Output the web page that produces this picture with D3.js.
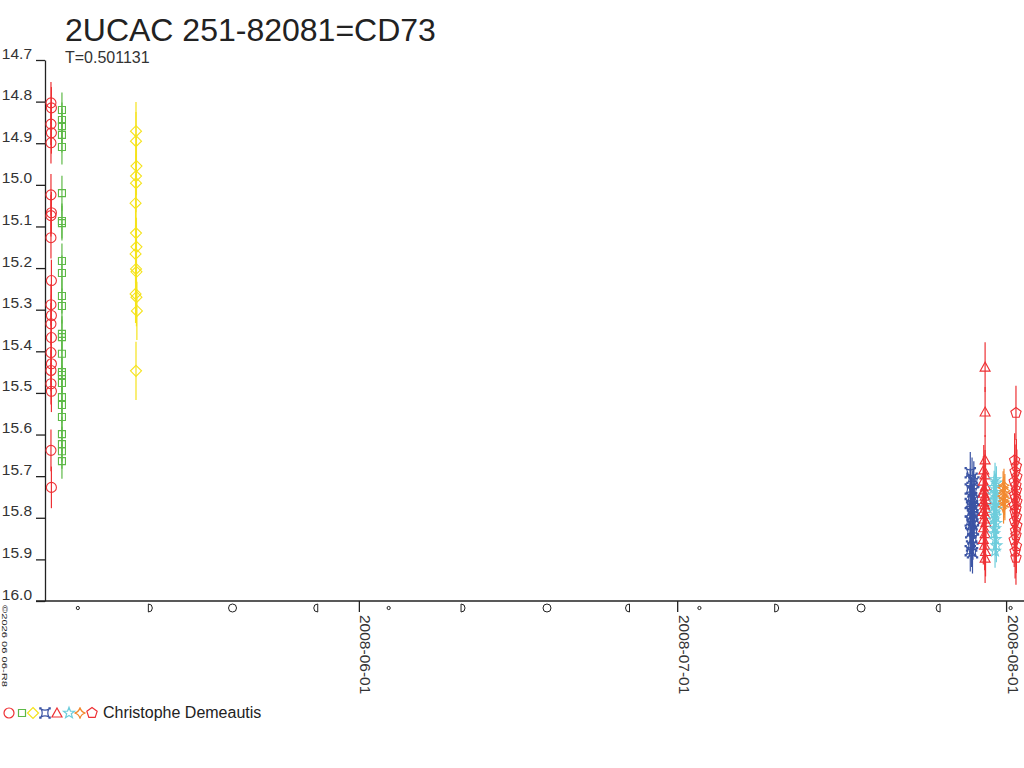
<!DOCTYPE html>
<html><head><meta charset="utf-8">
<script src="https://cdn.jsdelivr.net/npm/d3@7"></script>
<style>
body{margin:0;background:#fff}
svg{display:block}
text{font-family:"Liberation Sans",Arial,sans-serif}
</style>
</head><body>
<svg id="c" width="1024" height="768"></svg>
<script>
// ---------- DATA ----------
const title = "2UCAC 251-82081=CD73";
const subtitle = "T=0.501131";
const observer = "Christophe Demeautis";
const copyright = "©2026 06 06-R8";
const yTicks = [14.7,14.8,14.9,15.0,15.1,15.2,15.3,15.4,15.5,15.6,15.7,15.8,15.9,16.0];
const yDomain = [14.7, 16.0];
const xDomain = ["2008-05-02T10:00:00Z", "2008-08-02T16:30:00Z"];
const monthTicks = ["2008-06-01T00:00:00Z", "2008-07-01T00:00:00Z", "2008-08-01T00:00:00Z"];
const moonDates = ["2008-05-05T12:18:00Z","2008-05-12T03:47:00Z","2008-05-20T02:11:00Z","2008-05-28T02:57:00Z",
  "2008-06-03T19:23:00Z","2008-06-10T15:04:00Z","2008-06-18T17:30:00Z","2008-06-26T12:10:00Z",
  "2008-07-03T02:19:00Z","2008-07-10T04:35:00Z","2008-07-18T07:59:00Z","2008-07-25T18:42:00Z",
  "2008-08-01T10:13:00Z"];
const moonPhases = ["new","first","full","last","new","first","full","last","new","first","full","last","new"];

const seriesShapes = ["circle","square","diamond","cross","triangle","star","star4","pentagon"];
const seriesColors = ["#ee3034","#5db947","#f5e31c","#3b54a4","#ee3034","#6ecddc","#f28a30","#ee3034"];
const seriesTimes = ["2008-05-02T23:30:00Z","2008-05-04T00:20:00Z","2008-05-10T23:50:00Z","2008-07-28T21:00:00Z",
  "2008-07-30T00:30:00Z","2008-07-30T23:00:00Z","2008-07-31T19:15:00Z","2008-08-01T22:20:00Z"];
const seriesErr = [0.05, 0.042, 0.07, 0.05, 0.06, 0.04, 0.04, 0.065];

const magCircle = [14.803,14.815,14.854,14.875,14.899,15.024,15.067,15.074,15.127,15.230,15.288,15.314,15.334,
  15.367,15.403,15.430,15.446,15.478,15.496,15.638,15.727];
const magSquare = [14.820,14.844,14.859,14.880,14.909,15.020,15.087,15.092,15.183,15.212,15.267,15.291,15.358,
  15.366,15.406,15.450,15.457,15.476,15.510,15.529,15.558,15.599,15.623,15.640,15.664];
const magDiamond = [14.871,14.895,14.955,14.979,14.996,15.044,15.116,15.149,15.166,15.202,15.209,15.262,15.270,
  15.303,15.447];
const magCross = [15.692,15.705,15.714,15.731,15.738,15.752,15.758,15.766,15.771,15.779,15.786,15.793,15.801,
  15.808,15.817,15.829,15.836,15.851,15.868,15.879,15.884];
const magTriangle = [15.438,15.546,15.661,15.685,15.697,15.712,15.724,15.733,15.741,15.748,15.756,15.762,15.769,
  15.777,15.785,15.792,15.803,15.811,15.824,15.838,15.852,15.866,15.881,15.897];
const magStar = [15.708,15.716,15.727,15.739,15.745,15.757,15.764,15.772,15.779,15.788,15.796,15.805,15.813,
  15.826,15.838,15.852,15.867,15.880];
const magStar4 = [15.722,15.728,15.735,15.741,15.748,15.753,15.760,15.766,15.774];
const magPentagon = [15.548,15.662,15.676,15.689,15.701,15.713,15.722,15.734,15.745,15.752,15.761,15.770,15.778,
  15.786,15.797,15.808,15.819,15.831,15.842,15.853,15.868,15.881,15.896];
const seriesMags = [magCircle, magSquare, magDiamond, magCross, magTriangle, magStar, magStar4, magPentagon];

const hoursCircle = [0,1,0,1,0,0,1,0,0,1,0,1,0,1,0,1,0,0,1,0,1];
const hoursSquare = [0];
const hoursDiamond = [0,0,1,0,0,-1,0,1,-1,0,1,-1,1,2,0];
const hoursCross = [-6,-2,2,-6,0,-3,3,-6,-1,2,-4,0,3,-6,-2,1,-5,0,-3,-6,-1];
const hoursTriangle = [0,0,0,-3,0,-4,1,-2,-4,0,2,-3,-1,1,-4,0,-2,2,-3,0,-4,-1,1,0];
const hoursStar = [0,3,-2,1,-3,2,0,-2,3,-1,1,-3,2,0,-2,1,3,0];
const hoursStar4 = [0,-2,2,0,-2,1,0,2,-1];
const hoursPentagon = [0,-3,1,-2,2,-4,0,1,-3,-1,2,-4,0,-2,1,-3,2,-1,0,-4,1,-2,0];
const seriesHours = [hoursCircle, hoursSquare, hoursDiamond, hoursCross, hoursTriangle, hoursStar, hoursStar4, hoursPentagon];

// ---------- DRAW ----------
const svg = d3.select("#c");
const x = d3.scaleUtc().domain(xDomain.map(d => new Date(d))).range([45, 1024]);
const y = d3.scaleLinear().domain(yDomain).range([60, 601]);

function polyPath(n, rOuter, rInner, rot) {
  const pts = [];
  const k = rInner ? n * 2 : n;
  for (let i = 0; i < k; i++) {
    const r = rInner ? (i % 2 ? rInner : rOuter) : rOuter;
    const a = rot + i * 2 * Math.PI / k;
    pts.push([r * Math.sin(a), -r * Math.cos(a)]);
  }
  return "M" + pts.map(p => p[0].toFixed(2) + "," + p[1].toFixed(2)).join("L") + "Z";
}
function shapeD(shape) {
  switch (shape) {
    case "circle": return "M5,0A5,5 0 1 1 -5,0A5,5 0 1 1 5,0Z";
    case "square": return "M-3.5,-3.5H3.5V3.5H-3.5Z";
    case "diamond": return "M0,-5.5L5.5,0L0,5.5L-5.5,0Z";
    case "cross": return "M-4,-4Q0,-1.6 4,-4Q1.6,0 4,4Q0,1.6 -4,4Q-1.6,0 -4,-4Z" +
      "M-4,-4h-1.2v-1.2h1.2zM4,-4h1.2v-1.2h-1.2zM4,4h1.2v1.2h-1.2zM-4,4h-1.2v1.2h1.2z";
    case "triangle": return "M0,-5L5,4L-5,4Z";
    case "star": return polyPath(5, 5.8, 2.4, 0);
    case "star4": return "M0,-5.5Q1,-1 5.5,0Q1,1 0,5.5Q-1,1 -5.5,0Q-1,-1 0,-5.5Z";
    case "pentagon": return polyPath(5, 5.4, 0, 0);
  }
}

// Title
svg.append("text").attr("x", 65).attr("y", 41).attr("font-size", 32).attr("fill", "#222").text(title);
svg.append("text").attr("x", 65).attr("y", 63).attr("font-size", 16).attr("fill", "#333").text(subtitle);

// Y axis
const yAxis = d3.axisLeft(y).tickValues(yTicks).tickFormat(d3.format(".1f")).tickSize(9).tickSizeOuter(0);
const gy = svg.append("g").attr("transform", "translate(45,0)").call(yAxis);
gy.select(".domain").attr("stroke", "#222").attr("stroke-width", 1.3);
gy.selectAll(".tick line").attr("stroke", "#222").attr("stroke-width", 1.3);
gy.selectAll(".tick text").attr("x", -13).attr("y", -2).attr("dy", null)
  .attr("font-size", 15.5).attr("fill", "#333").attr("font-family", "Liberation Sans, Arial, sans-serif");

// X axis
const xAxis = d3.axisBottom(x).tickValues(monthTicks.map(d => new Date(d)))
  .tickFormat(d3.utcFormat("%Y-%m-%d")).tickSize(11).tickSizeOuter(0);
const gx = svg.append("g").attr("transform", "translate(0,601)").call(xAxis);
gx.select(".domain").remove();
gx.selectAll(".tick line").attr("stroke", "#222").attr("stroke-width", 1.3);
gx.selectAll(".tick text").attr("transform", "translate(1,14) rotate(90)").attr("x", 0).attr("y", 0).attr("dy", null)
  .attr("text-anchor", "start").attr("font-size", 15.5).attr("fill", "#333")
  .attr("font-family", "Liberation Sans, Arial, sans-serif");
svg.append("line").attr("x1", 36).attr("x2", 1024).attr("y1", 601).attr("y2", 601)
  .attr("stroke", "#222").attr("stroke-width", 1.3);

// Moon phases
const gm = svg.append("g").attr("fill", "none").attr("stroke", "#222").attr("stroke-width", 1);
moonDates.forEach((d, i) => {
  const mx = x(new Date(d)), my = 608;
  const p = moonPhases[i];
  if (p === "new") gm.append("circle").attr("cx", mx).attr("cy", my).attr("r", 1.6);
  else if (p === "full") gm.append("circle").attr("cx", mx).attr("cy", my).attr("r", 4);
  else if (p === "first") gm.append("path").attr("d", `M${mx},${my-4}A4,4 0 0 1 ${mx},${my+4}Z`);
  else gm.append("path").attr("d", `M${mx},${my-4}A4,4 0 0 0 ${mx},${my+4}Z`);
});

// Copyright
svg.append("text").attr("transform", "translate(2,605) rotate(90)").attr("font-size", 8)
  .attr("fill", "#222").attr("textLength", 82).attr("lengthAdjust", "spacingAndGlyphs").text(copyright);

// Data series
seriesMags.forEach((mags, si) => {
  const g = svg.append("g");
  const t0 = new Date(seriesTimes[si]).getTime();
  const hrs = seriesHours[si];
  const pts = mags.map((m, i) => ({ m, cx: x(new Date(t0 + (hrs[i % hrs.length] || 0) * 3600e3)) }));
  const col = seriesColors[si];
  const err = seriesErr[si];
  g.selectAll("line").data(pts).join("line")
    .attr("x1", d => d.cx).attr("x2", d => d.cx)
    .attr("y1", d => y(d.m - err)).attr("y2", d => y(d.m + err))
    .attr("stroke", col).attr("stroke-width", 1.2);
  g.selectAll("path").data(pts).join("path")
    .attr("d", shapeD(seriesShapes[si]))
    .attr("transform", d => `translate(${d.cx},${y(d.m)})`)
    .attr("fill", "none").attr("stroke", col).attr("stroke-width", 1.1);
});

// Legend
const lx = [9, 22, 33, 45, 57, 69, 80, 92];
const gl = svg.append("g");
seriesShapes.forEach((s, i) => {
  gl.append("path").attr("d", shapeD(s)).attr("transform", `translate(${lx[i]},713)`)
    .attr("fill", "none").attr("stroke", seriesColors[i]).attr("stroke-width", 1.2);
});
svg.append("text").attr("x", 103).attr("y", 718).attr("font-size", 16).attr("fill", "#222").text(observer);
</script>
</body></html>
